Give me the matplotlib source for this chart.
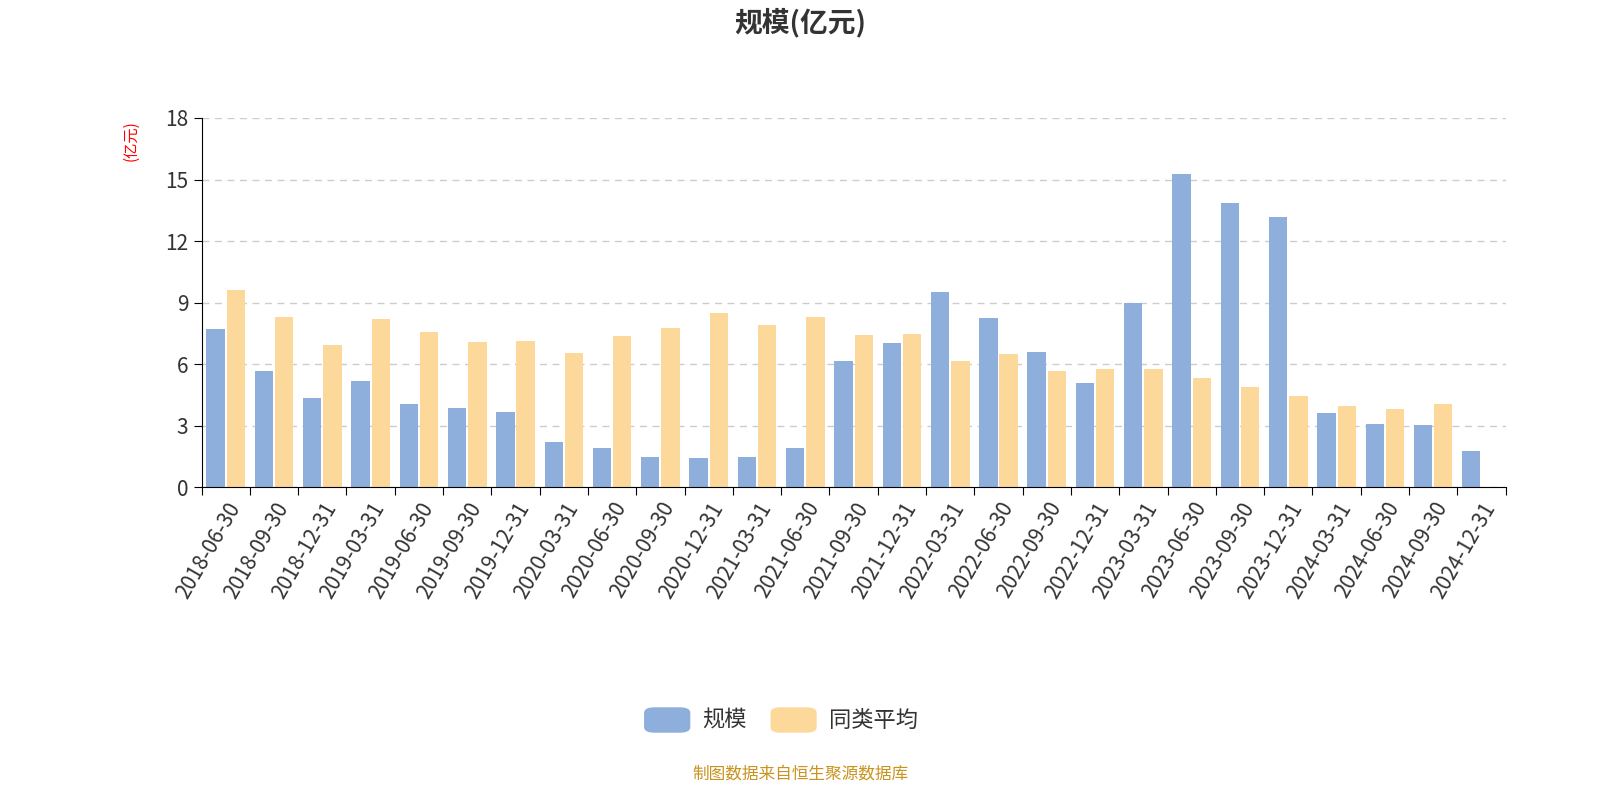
import matplotlib
matplotlib.use("Agg")
import matplotlib.pyplot as plt
from matplotlib import font_manager as fm
import numpy as np
from matplotlib.patches import FancyBboxPatch

cjk = None
for f in fm.findSystemFonts():
    if "CJK" in f or "cjk" in f.lower():
        try:
            fm.fontManager.addfont(f)
        except Exception:
            pass
names = [f.name for f in fm.fontManager.ttflist if "CJK" in f.name]
cjk = "Noto Sans CJK SC" if "Noto Sans CJK SC" in names else (names[0] if names else "DejaVu Sans")
plt.rcParams["font.family"] = [cjk, "DejaVu Sans"]

dates = ["2018-06-30","2018-09-30","2018-12-31","2019-03-31","2019-06-30","2019-09-30","2019-12-31",
         "2020-03-31","2020-06-30","2020-09-30","2020-12-31","2021-03-31","2021-06-30","2021-09-30",
         "2021-12-31","2022-03-31","2022-06-30","2022-09-30","2022-12-31","2023-03-31","2023-06-30",
         "2023-09-30","2023-12-31","2024-03-31","2024-06-30","2024-09-30","2024-12-31"]
scale = [7.7,5.65,4.35,5.2,4.05,3.85,3.65,2.2,1.9,1.45,1.4,1.45,1.9,6.15,7.05,9.5,8.25,6.6,5.1,9.0,
         15.25,13.85,13.15,3.6,3.1,3.05,1.75]
peer = [9.6,8.3,6.95,8.2,7.55,7.1,7.15,6.55,7.35,7.75,8.5,7.9,8.3,7.4,7.45,6.15,6.5,5.65,5.75,5.75,
        5.3,4.9,4.45,3.95,3.8,4.05,np.nan]
yticks = [0,3,6,9,12,15,18]

fig = plt.figure(figsize=(16,8), dpi=100)
ax = fig.add_axes([0.126,0.391,0.815,0.4615])
x = np.arange(len(dates))
w = 0.38
ax.bar(x-0.21, scale, w, color="#8eaedb")
ax.bar(x+0.21, peer, w, color="#fdd89b")
ax.set_xlim(-0.5, len(dates)-0.5)
ax.set_ylim(0,18)
ax.set_yticks(yticks)
ax.set_yticklabels([str(t) for t in yticks], fontsize=15, color="#333")
ax.set_xticks(np.arange(len(dates)+1)-0.5, minor=False)
ax.set_xticklabels([])
ax.set_xticks(x, minor=True)
ax.set_xticklabels(dates, minor=True, rotation=60, ha="right", rotation_mode="anchor", fontsize=15, color="#333")
ax.tick_params(axis="x", which="minor", length=0, pad=8)
ax.tick_params(axis="x", which="major", length=6)
ax.tick_params(axis="y", length=6)
for s in ["top","right"]:
    ax.spines[s].set_visible(False)
ax.grid(axis="y", linestyle=(0,(5,4)), color="#cccccc", linewidth=1)
ax.set_axisbelow(True)
ax.set_ylabel("(亿元)", color="red", fontsize=11)
ax.yaxis.set_label_coords(-0.048, 0.94)
fig.text(0.5, 0.972, "规模(亿元)", ha="center", va="center", fontsize=20, fontweight="bold", color="#333")

for px, c, lab in [(0.403,"#8eaedb","规模"),(0.482,"#fdd89b","同类平均")]:
    fig.patches.append(FancyBboxPatch((px,0.085),0.028,0.03,boxstyle="round,pad=0,rounding_size=0.006",
                                      transform=fig.transFigure, color=c))
    fig.text(px+0.036, 0.1, lab, fontsize=16, va="center", color="#333")
fig.text(0.5, 0.033, "制图数据来自恒生聚源数据库", ha="center", va="center", fontsize=12, color="#c8931e")
fig.savefig("out.png")
